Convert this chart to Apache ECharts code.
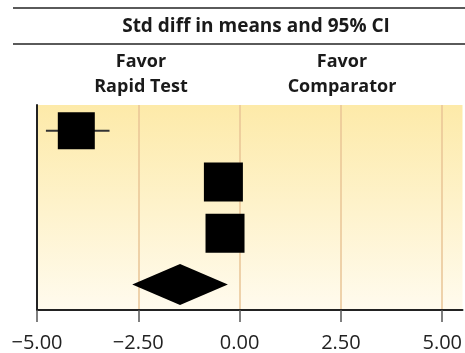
<!DOCTYPE html>
<html><head><meta charset="utf-8">
<script src="https://cdn.jsdelivr.net/npm/echarts@6/dist/echarts.min.js"></script>
<style>html,body{margin:0;padding:0;background:#fff}#c{width:465px;height:353px}</style>
</head><body><div id="c"></div>
<script>
const studies = ['Study 1', 'Study 2', 'Study 3', 'Summary'];
const effect = [-4.03, -0.40, -0.36];
const lower = [-4.78, -0.72, -0.68];
const upper = [-3.21, -0.08, -0.04];
const boxSize = [37, 39, 39];
const summaryCI = [-2.65, -1.47, -0.29];
const tickValues = [-5, -2.5, 0, 2.5, 5];
const headerTitle = 'Std diff in means and 95% CI';
const leftLabel = ['Favor', 'Rapid Test'];
const rightLabel = ['Favor', 'Comparator'];

const FONT = '"Open Sans", "Noto Sans", sans-serif';
const chart = echarts.init(document.getElementById('c'), null, {renderer: 'canvas'});
const fmt = v => (v < 0 ? '\u2212' : '') + Math.abs(v).toFixed(2);

const studyData = studies.slice(0, 3).map((s, i) => [s, lower[i], effect[i], upper[i], boxSize[i]]);
const summaryData = [[studies[3], summaryCI[0], summaryCI[1], summaryCI[2]]];

function textEl(x, y, t) {
  return {type: 'text', x: x, y: y, style: {text: t, font: 'bold 18px ' + FONT, fill: '#1a1a1a', align: 'center', verticalAlign: 'middle'}};
}

chart.setOption({
  animation: false,
  grid: {left: 37, right: 0, top: 105, bottom: 41, show: true, borderWidth: 0,
    backgroundColor: new echarts.graphic.LinearGradient(0, 0, 0, 1, [
      {offset: 0, color: '#fdeaa9'}, {offset: 1, color: '#fffbee'}])},
  graphic: [
    {type: 'line', shape: {x1: 13, y1: 8, x2: 465, y2: 8}, style: {stroke: '#5a5a5a', lineWidth: 2}},
    {type: 'line', shape: {x1: 13, y1: 44, x2: 465, y2: 44}, style: {stroke: '#5a5a5a', lineWidth: 2}},
    {type: 'text', x: 256, y: 27, style: {text: headerTitle, font: 'bold 19px ' + FONT, fill: '#1a1a1a', align: 'center', verticalAlign: 'middle'}},
    textEl(141, 62, leftLabel[0]), textEl(141, 87, leftLabel[1]),
    textEl(342, 62, rightLabel[0]), textEl(342, 87, rightLabel[1])
  ],
  xAxis: {
    type: 'value', min: -5, max: 5.5,
    axisLine: {show: true, onZero: false, lineStyle: {color: '#222', width: 2}},
    axisTick: {show: true, length: 12, customValues: tickValues, lineStyle: {color: '#555', width: 1.5}},
    axisLabel: {customValues: tickValues, formatter: fmt, margin: 23, fontSize: 20, color: '#222', fontFamily: FONT},
    splitLine: {show: true, customValues: tickValues, lineStyle: {color: '#e8c596', width: 1.5}}
  },
  yAxis: {
    type: 'category', data: studies, inverse: true,
    axisLine: {show: true, onZero: false, lineStyle: {color: '#222', width: 2}},
    axisTick: {show: false}, axisLabel: {show: false}, splitLine: {show: false}
  },
  series: [
    {
      type: 'custom', data: studyData, encode: {y: 0, x: [1, 2, 3]},
      renderItem(params, api) {
        const c = api.value(0);
        const pl = api.coord([api.value(1), c]);
        const pm = api.coord([api.value(2), c]);
        const ph = api.coord([api.value(3), c]);
        const s = api.value(4);
        return {type: 'group', children: [
          {type: 'line', shape: {x1: pl[0], y1: pl[1], x2: ph[0], y2: ph[1]}, style: {stroke: '#333', lineWidth: 2}},
          {type: 'rect', shape: {x: pm[0] - s / 2, y: pm[1] - s / 2, width: s, height: s}, style: {fill: '#000'}}
        ]};
      }
    },
    {
      type: 'custom', data: summaryData, encode: {y: 0, x: [1, 2, 3]},
      renderItem(params, api) {
        const c = api.value(0);
        const pl = api.coord([api.value(1), c]);
        const pm = api.coord([api.value(2), c]);
        const ph = api.coord([api.value(3), c]);
        const h = 20.5;
        return {type: 'polygon', shape: {points: [[pl[0], pl[1]], [pm[0], pm[1] - h], [ph[0], ph[1]], [pm[0], pm[1] + h]]}, style: {fill: '#000'}};
      }
    }
  ]
});
</script></body></html>
